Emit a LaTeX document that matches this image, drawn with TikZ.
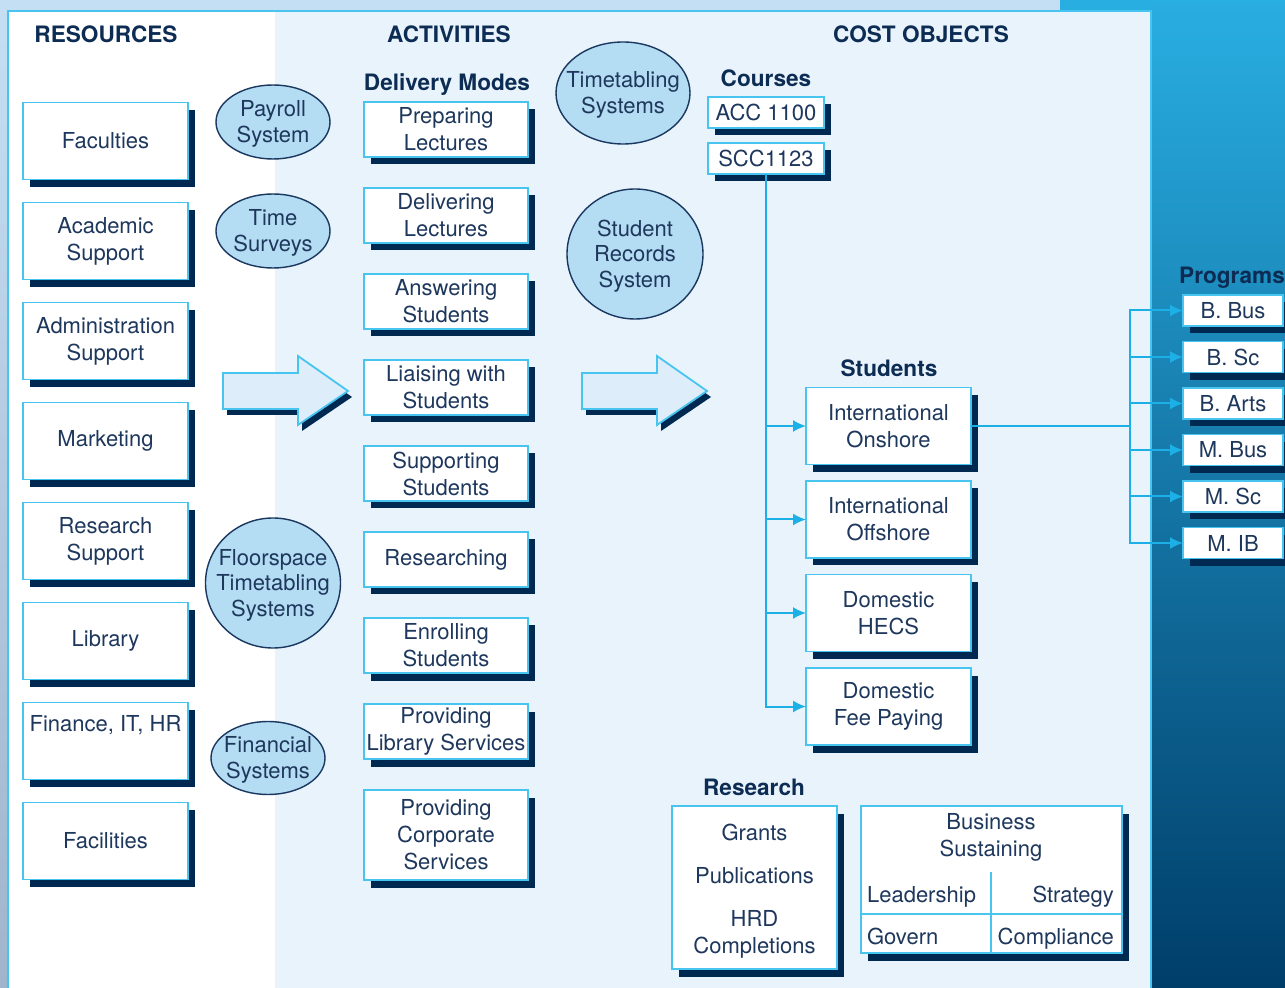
\documentclass[tikz,border=0pt]{standalone}
\usepackage{fontspec}
\setmainfont{TeX Gyre Heros}
\usepackage{xcolor}
\usetikzlibrary{shapes.geometric,positioning,shadows,arrows.meta}
\definecolor{navy}{RGB}{0,41,82}
\definecolor{ink}{RGB}{30,55,92}
\definecolor{headc}{RGB}{12,44,84}
\definecolor{edge}{RGB}{72,196,240}
\definecolor{wirec}{RGB}{28,176,230}
\definecolor{bubblefill}{RGB}{180,220,243}
\definecolor{bubbleline}{RGB}{25,55,95}
\definecolor{panel}{RGB}{233,243,252}
\definecolor{arrowfill}{RGB}{222,237,250}
\definecolor{frametop}{RGB}{196,223,243}
\definecolor{framebot}{RGB}{160,181,204}
\definecolor{deepa}{RGB}{41,174,226}
\definecolor{deepb}{RGB}{60,128,178}
\definecolor{deepc}{RGB}{0,62,106}
\tikzstyle{res}=[draw=edge,
fill=white,
line width=0.9pt,
outer sep=0pt,
minimum width=82.5pt,
minimum height=38.5pt,
align=center,
drop shadow={shadow xshift=3.5pt,shadow yshift=-3.75pt,fill=navy,opacity=1},
]
\tikzstyle{act}=[res,
minimum width=82pt,
minimum height=27.5pt,
inner sep=1pt,
]
\tikzstyle{tag}=[res,
minimum width=58pt,
minimum height=15.5pt,
inner sep=1pt,
]
\tikzstyle{prog}=[res,
minimum width=50pt,
minimum height=15.5pt,
inner sep=1pt,
]
\tikzstyle{bubble}=[ellipse,
draw=bubbleline,
fill=bubblefill,
line width=0.7pt,
inner sep=0pt,
]
\tikzstyle{bubbletext}=[align=center,
font=\fontsize{11}{12.75}\selectfont,
yshift=-1pt,
]
\tikzstyle{head}=[font=\fontsize{11.3}{13.5}\selectfont\bfseries,
text=headc,
]
\tikzstyle{bigarrow}=[draw=edge,
fill=arrowfill,
line width=0.9pt,
drop shadow={shadow xshift=2pt,shadow yshift=-3pt,fill=navy,opacity=1},
]
\tikzstyle{wire}=[draw=wirec,
line width=1pt,
]
\tikzstyle{tip}=[-{Latex[length=6.5pt,width=6pt]}]

\begin{document}
\begin{tikzpicture}[x=0.5pt,y=-0.5pt,font=\fontsize{11}{13.5}\selectfont,text=ink]
        \useasboundingbox (0,0) rectangle (1285,988);
        % background panels
        \shade[top color=frametop,bottom color=framebot] (0,0) rectangle (8,988);
        \fill[frametop] (0,0) rectangle (1060,11);
        \fill[white] (8,11) rectangle (275,988);
        \fill[panel] (275,11) rectangle (1151,988);
        \shade[top color=deepa,middle color=deepb,bottom color=deepc] (1151,0) rectangle (1285,988);
        \fill[deepa] (1060,0) rectangle (1151,11);
        \draw[edge,line width=0.8pt] (8,988) -- (8,11) -- (1151,11) -- (1151,988);

        % flow arrows
        \foreach \ax in {223,582}
            \draw[bigarrow] (\ax,373) -- ++(75,0) -- ++(0,-17) -- ++(50,35) -- ++(-50,34) -- ++(0,-16) -- ++(-75,0) -- cycle;

        % headings
        \node[head] (resources) at (106,34) {RESOURCES};
        \node[head] (activities) at (449,34) {ACTIVITIES};
        \node[head] (costobjects) at (921,34) {COST OBJECTS};
        \node[head] (modes) at (447,85) {Delivery Modes};
        \node[head] (courses) at (766,78) {Courses};
        \node[head] (students) at (889,368) {Students};
        \node[head] (programs) at (1232,278) {Programs};
        \node[head] (research) at (754,787) {Research};

        % resources
        \node[res] (faculties) at (105.5,141) {Faculties};
        \node[res, below=11.5pt of faculties] (academic) {Academic\\Support};
        \node[res, below=11.5pt of academic] (admin) {Administration\\Support};
        \node[res, below=11.5pt of admin] (marketing) {Marketing};
        \node[res, below=11.5pt of marketing] (ressupport) {Research\\Support};
        \node[res, below=11.5pt of ressupport] (library) {Library};
        \node[res, below=11.5pt of library] (finance) {Finance, IT, HR\\\strut};
        \node[res, below=11.5pt of finance] (facilities) {Facilities};

        % systems
        \node[bubble, minimum width=57pt, minimum height=37pt,
            label={[bubbletext]center:Payroll\\System}] (payroll) at (273,122) {};
        \node[bubble, minimum width=57pt, minimum height=37pt,
            label={[bubbletext]center:Time\\Surveys}] (timesurveys) at (273,231) {};
        \node[bubble, minimum width=67.5pt, minimum height=65pt,
            label={[bubbletext]center:Floorspace\\Timetabling\\Systems}] (floorspace) at (273,583) {};
        \node[bubble, minimum width=57pt, minimum height=36.5pt,
            label={[bubbletext]center:Financial\\Systems}] (financial) at (268,758) {};
        \node[bubble, minimum width=67pt, minimum height=51pt,
            label={[bubbletext]center:Timetabling\\Systems}] (timetabling) at (623,93) {};
        \node[bubble, minimum width=68pt, minimum height=65pt,
            label={[bubbletext]center:Student\\Records\\System}] (records) at (635,254) {};

        % activities
        \node[act] (preparing) at (446,129.5) {Preparing\\Lectures};
        \node[act, below=15.5pt of preparing] (delivering) {Delivering\\Lectures};
        \node[act, below=15.5pt of delivering] (answering) {Answering\\Students};
        \node[act, below=15.5pt of answering] (liaising) {Liaising with\\Students};
        \node[act, below=15.5pt of liaising] (supporting) {Supporting\\Students};
        \node[act, below=15.5pt of supporting] (researching) {Researching};
        \node[act, below=15.5pt of researching] (enrolling) {Enrolling\\Students};
        \node[act, below=15.5pt of enrolling] (libservices) {Providing\\Library Services};
        \node[act, minimum height=45pt, below=15.5pt of libservices] (corporate) {Providing\\Corporate\\Services};

        % cost objects
        \node[tag] (acc) at (766,112.5) {ACC 1100};
        \node[tag, below=7.5pt of acc] (scc) {SCC1123};

        \node[res] (onshore) at (888.5,426) {International\\Onshore};
        \node[res, below=8.25pt of onshore] (offshore) {International\\Offshore};
        \node[res, below=8.25pt of offshore] (hecs) {Domestic\\HECS};
        \node[res, below=8.25pt of hecs] (feepaying) {Domestic\\Fee Paying};

        \node[prog] (bbus) at (1233,310.5) {B. Bus};
        \node[prog, below=7.75pt of bbus] (bsc) {B. Sc};
        \node[prog, below=7.75pt of bsc] (barts) {B. Arts};
        \node[prog, below=7.75pt of barts] (mbus) {M. Bus};
        \node[prog, below=7.75pt of mbus] (msc) {M. Sc};
        \node[prog, below=7.75pt of msc] (mib) {M. IB};

        \node[res, minimum height=81.5pt,
            label={[align=center,yshift=-2pt]center:Grants\\[8pt]Publications\\[8pt]HRD\\Completions}] (grants) at (754.5,887.5) {};
        \node[res, minimum width=130.5pt, minimum height=73.5pt] (business) at (991.5,879.5) {};
        \node[align=center] (sustaining) at (991,837) {Business\\Sustaining};
        \node[anchor=base west] (leadership) at (860,902) {Leadership};
        \node[anchor=base east] (strategy) at (1121,902) {Strategy};
        \node[anchor=base west] (govern) at (860,944) {Govern};
        \node[anchor=base east] (compliance) at (1121,944) {Compliance};
        \coordinate (divtop) at (991,872);
        \coordinate (divmid) at (991,914);
        \draw[edge,line width=0.9pt] (business.west |- divmid) -- (business.east |- divmid);
        \draw[edge,line width=0.9pt] (divtop) -- (divtop |- business.south);

        % connectors
        \foreach \s in {onshore,offshore,hecs,feepaying}
            \draw[wire,tip] (scc.south) |- (\s.west);
        \coordinate (bus) at (1130,426);
        \draw[wire] (onshore.east) -- (bus);
        \foreach \p in {bbus,bsc,barts,mbus,msc,mib}
            \draw[wire,tip] (bus) |- (\p.west);
    \end{tikzpicture}
\end{document}
